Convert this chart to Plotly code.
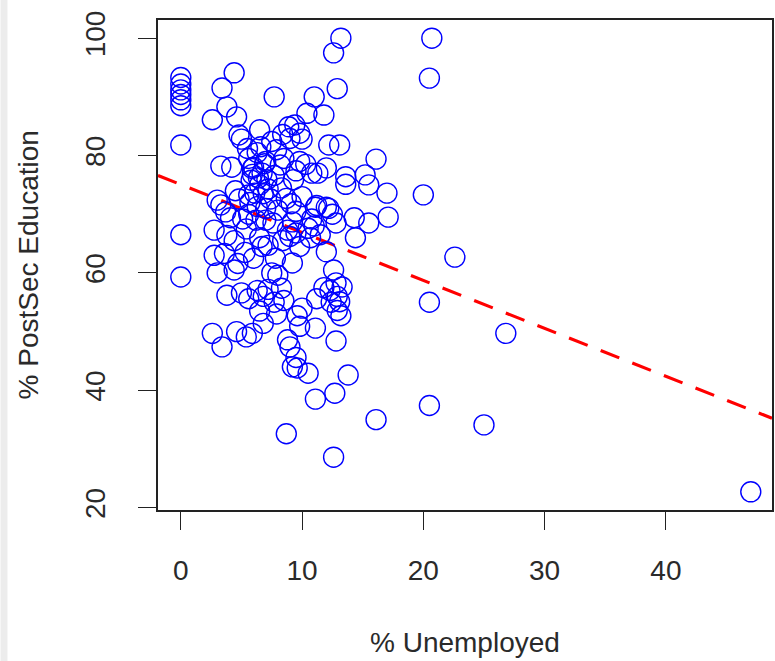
import plotly.graph_objects as go

# % Unemployed (x) and % PostSec Education (y)
unemployed = [
    0, 0, 0, 0, 0, 0, 0, 0, 0,
    4.4, 3.4, 3.8, 4.6, 2.6, 7.7, 4.8, 6.5, 5.0,
    13.2, 12.6, 12.9, 11.0, 11.8, 10.4, 16.1, 12.2, 13.1, 10.0, 8.9, 8.4, 9.4, 9.0, 9.8,
    12.0, 13.6, 15.2, 13.6, 15.5, 17.0, 17.1, 15.5, 14.3, 14.4, 12.8, 11.1, 12.2, 12.0,
    12.6, 9.2, 9.3,
    20.5, 20.7, 20.0, 22.6, 26.8, 20.5, 20.5, 25.0, 47.0,
    12.8, 10.5, 13.8, 12.7, 11.1, 16.1, 8.7, 12.6, 9.2, 9.5, 9.0, 8.8, 9.6, 11.1, 9.8,
    9.6, 10.0, 11.2, 13.2, 12.9, 13.1, 13.3, 12.8, 12.3, 12.9, 11.8, 12.4,
    2.6, 3.4, 5.4, 5.9, 4.6, 3.8, 5.0, 5.6, 3.0, 4.4, 4.7, 3.6, 2.75, 6.3, 6.8, 7.2,
    6.5, 6.8, 7.5, 8.0, 8.3, 8.5, 7.7, 7.9,
    2.75, 3.0, 3.3, 4.2, 3.8, 4.4, 4.1, 3.7, 3.3, 5.4, 5.1, 5.6, 5.6, 4.8, 4.5, 6.0,
    6.3, 6.6, 5.5, 5.6, 5.9, 6.7, 7.0, 6.5, 7.2, 7.4, 7.0, 6.3, 6.1, 7.0, 7.6, 8.0,
    7.7, 8.2, 7.9, 7.5, 8.5, 9.5, 9.8, 10.8, 11.3, 10.3, 8.7, 9.1, 9.5, 9.2, 9.5, 9.0,
    8.8, 10.8, 11.0, 11.5, 11.2, 12.0, 12.5, 10.5, 10.7, 9.8, 8.4, 7.2, 6.7, 6.5, 6.0,
    5.3, 5.8, 6.8, 6.2, 7.8, 8.3, 10.0,
    5.9, 6.4, 7.1, 5.7, 6.9,
]
postsec = [
    93.3, 92.2, 91.2, 90.4, 89.5, 88.5, 81.8, 66.5, 59.3,
    94.1, 91.5, 88.3, 86.6, 86.1, 90.0, 83.5, 84.4, 82.8,
    100.0, 97.5, 91.4, 90.0, 86.9, 87.2, 79.4, 81.8, 81.8, 82.8, 84.9, 83.6, 85.2, 82.9, 83.8,
    77.9, 76.4, 76.7, 75.1, 75.0, 73.6, 69.5, 68.5, 69.4, 66.0, 68.5, 71.2, 71.0, 63.6,
    60.5, 61.7, 75.9,
    93.2, 100.0, 73.3, 62.7, 49.7, 55.0, 37.4, 34.1, 22.7,
    48.4, 42.9, 42.6, 39.5, 38.5, 35.0, 32.6, 28.6, 44.0, 45.6, 47.4, 48.6, 43.8, 50.6, 50.9,
    52.7, 54.0, 55.6, 52.7, 53.6, 55.1, 57.6, 58.3, 57.0, 56.0, 57.5, 55.0,
    49.7, 47.4, 49.1, 49.7, 50.0, 56.2, 56.6, 55.6, 60.0, 60.5, 61.6, 63.3, 63.0, 57.0, 56.0, 57.2,
    53.5, 51.4, 60.0, 59.6, 57.4, 55.3, 55.0, 53.0,
    67.3, 72.4, 78.2, 78.0, 66.4, 65.5, 69.4, 70.4, 71.6, 67.5, 69.2, 70.0, 73.3, 72.6, 74.0, 78.0,
    80.5, 81.5, 81.2, 79.5, 76.8, 77.0, 79.0, 75.0, 74.3, 72.6, 71.0, 71.3, 73.6, 69.0, 68.5, 70.7,
    76.6, 78.4, 81.0, 82.4, 79.5, 77.4, 79.0, 77.0, 77.0, 78.5, 72.7, 71.8, 70.5, 68.7, 66.8, 66.2,
    67.3, 69.2, 68.0, 66.5, 71.5, 71.2, 70.0, 67.6, 66.0, 64.5, 65.5, 64.7, 64.5, 66.0, 62.5,
    63.5, 75.8, 73.5, 69.0, 62.5, 74.5, 73.0,
    77.8, 76.2, 75.9, 72.0, 78.6,
]

# fitted regression line
fit_intercept = 75.06
fit_slope = -0.817

x_range = [-1.88, 48.75]
y_range = [19.6, 103.1]
x_ticks = [0, 10, 20, 30, 40]
y_ticks = [20, 40, 60, 80, 100]

fit_x = x_range
fit_y = [fit_intercept + fit_slope * v for v in fit_x]

FONT = "Liberation Sans, Arial, sans-serif"
TXT = "#2a2a2a"

fig = go.Figure()
fig.add_trace(go.Scatter(
    x=fit_x, y=fit_y, mode="lines",
    line=dict(color="#ff0000", width=3.2, dash="20px,14px"),
    hoverinfo="skip", showlegend=False,
))
fig.add_trace(go.Scatter(
    x=unemployed, y=postsec, mode="markers",
    marker=dict(symbol="circle-open", size=20, color="#0000ff",
                line=dict(width=1.4, color="#0000ff")),
    showlegend=False,
))

axis_common = dict(
    showgrid=False, zeroline=False, showline=True, linecolor="#222222",
    linewidth=1.5, mirror=True, ticks="outside", ticklen=18, tickwidth=1.3,
    tickcolor="#222222", tickfont=dict(family=FONT, size=28, color=TXT),
)

fig.update_layout(
    width=775, height=661,
    margin=dict(l=158, r=1, t=20, b=151),
    paper_bgcolor="white", plot_bgcolor="white",
    xaxis=dict(range=x_range, tickvals=x_ticks, ticklabelstandoff=17, **axis_common),
    yaxis=dict(range=y_range, tickvals=y_ticks, tickangle=-90, ticklabelstandoff=22,
               **axis_common),
    annotations=[
        dict(text="% Unemployed", xref="paper", yref="paper", x=0.5, y=-0.271,
             xanchor="center", yanchor="middle", showarrow=False,
             font=dict(family=FONT, size=28, color=TXT)),
        dict(text="% PostSec Education", xref="paper", yref="paper", x=-130 / 616, y=0.5,
             xanchor="center", yanchor="middle", textangle=-90, showarrow=False,
             font=dict(family=FONT, size=28, color=TXT)),
    ],
    shapes=[
        dict(type="rect", xref="paper", yref="paper", x0=-158 / 616, x1=-151 / 616,
             y0=-151 / 490, y1=1 + 20 / 490, fillcolor="#ececec", line=dict(width=0),
             layer="below"),
    ],
)

fig.write_html("out.html")
